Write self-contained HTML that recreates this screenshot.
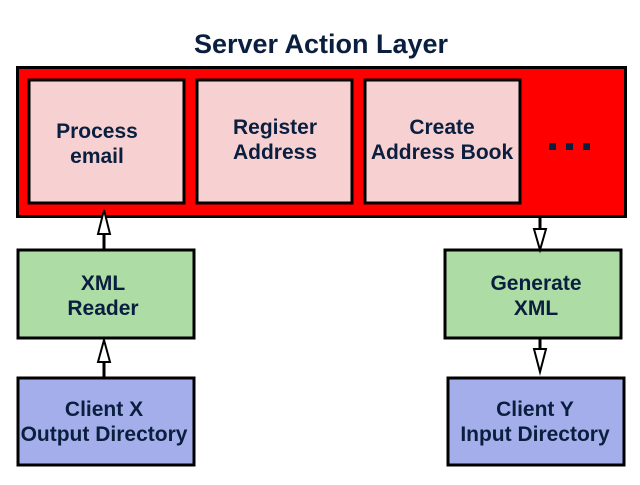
<!DOCTYPE html>
<html><head><style>
body{margin:0;width:640px;height:480px;background:#fff;overflow:hidden}
svg text{font-family:"Liberation Sans",sans-serif;font-weight:bold;fill:#0a1f3f;text-anchor:middle}
</style></head><body>
<svg width="640" height="480" viewBox="0 0 640 480">
<text x="321" y="53" font-size="27">Server Action Layer</text>
<rect x="17.5" y="67.5" width="608" height="149" fill="#ff0000" stroke="#000" stroke-width="3"/>
<g fill="#f7d1d1" stroke="#000" stroke-width="3">
<rect x="29" y="80" width="155" height="123"/>
<rect x="197" y="80" width="155" height="123"/>
<rect x="365" y="80" width="155" height="123"/>
</g>
<g font-size="21">
<text x="97" y="138">Process</text><text x="97" y="163">email</text>
<text x="275" y="134">Register</text><text x="275" y="159">Address</text>
<text x="442" y="134">Create</text><text x="442" y="159">Address Book</text>
</g>
<g fill="#0a1f3f">
<rect x="549" y="143" width="7" height="7"/>
<rect x="566" y="143" width="7" height="7"/>
<rect x="583" y="143" width="7" height="7"/>
</g>
<rect x="18" y="250" width="176" height="88" fill="#addda5" stroke="#000" stroke-width="3"/>
<rect x="445" y="250" width="176" height="88" fill="#addda5" stroke="#000" stroke-width="3"/>
<rect x="18" y="378" width="176" height="87" fill="#a3aeea" stroke="#000" stroke-width="3"/>
<rect x="448" y="378" width="176" height="87" fill="#a3aeea" stroke="#000" stroke-width="3"/>
<g font-size="21">
<text x="103" y="290">XML</text><text x="103" y="315">Reader</text>
<text x="536" y="290">Generate</text><text x="536" y="315">XML</text>
<text x="104" y="416">Client X</text><text x="104" y="441">Output Directory</text>
<text x="535" y="416">Client Y</text><text x="535" y="441">Input Directory</text>
</g>
<g stroke="#000" stroke-width="3" fill="#fff">
<line x1="104" y1="249" x2="104" y2="234"/>
<polygon points="104,210 98,234 110,234" stroke-width="2"/>
<line x1="104" y1="377" x2="104" y2="362"/>
<polygon points="104,340 98,362 110,362" stroke-width="2"/>
<line x1="540" y1="218" x2="540" y2="229"/>
<polygon points="540,250 534,229 546,229" stroke-width="2"/>
<line x1="540" y1="338" x2="540" y2="349"/>
<polygon points="540,372 534,349 546,349" stroke-width="2"/>
</g>
</svg>
</body></html>
